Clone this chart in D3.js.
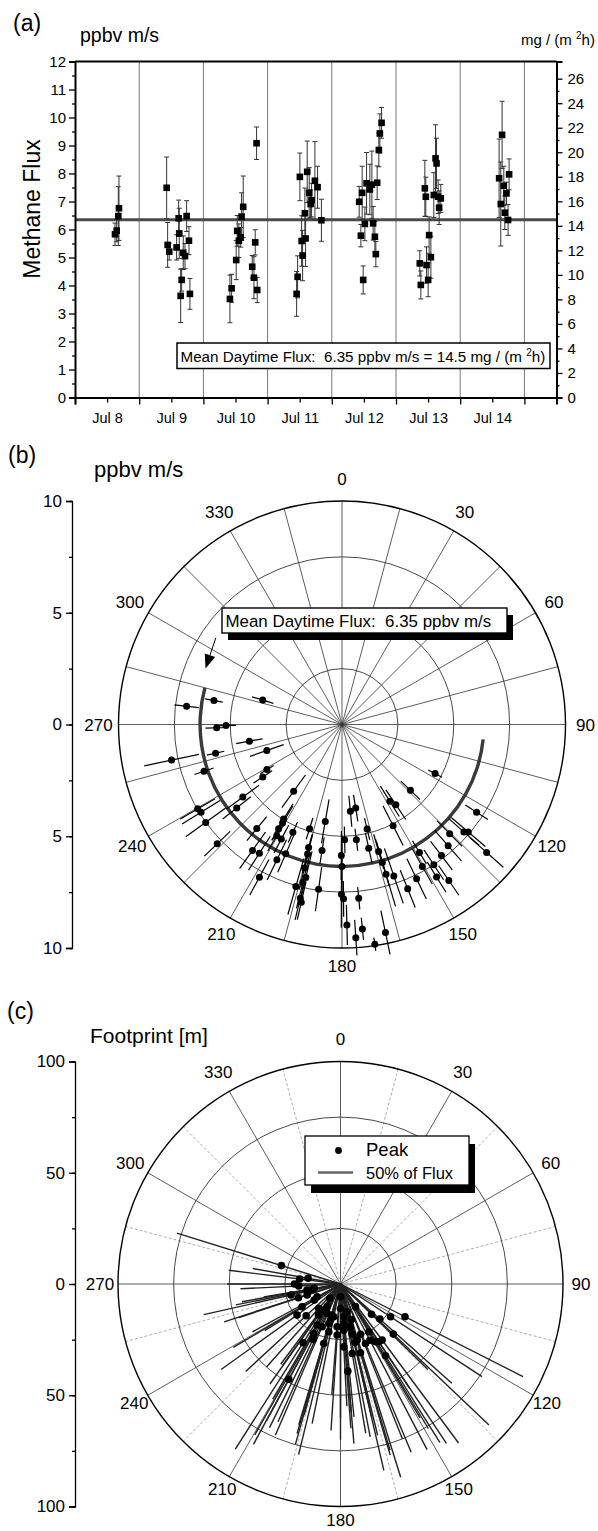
<!DOCTYPE html>
<html>
<head>
<meta charset="utf-8">
<script src="https://d3js.org/d3.v7.min.js"></script>
<style>
  body { margin: 0; background: #fff; }
  svg { display: block; font-family: "Liberation Sans", Arial, sans-serif; }
  .pre { white-space: pre; }
</style>
</head>
<body>
<svg id="chart" width="598" height="1531"></svg>
<script>
'use strict';

// ---- (a) daytime methane flux time series (ppbv m/s) ----
var fluxTimes = [
  '1999-07-08 14:57','1999-07-08 15:35','1999-07-08 16:11','1999-07-08 16:26',
  '1999-07-09 10:16','1999-07-09 10:38','1999-07-09 11:14','1999-07-09 13:59','1999-07-09 14:45',
  '1999-07-09 14:58','1999-07-09 15:30','1999-07-09 15:52','1999-07-09 16:28','1999-07-09 17:07',
  '1999-07-09 17:44','1999-07-09 18:36','1999-07-09 18:58',
  '1999-07-10 09:55','1999-07-10 10:33','1999-07-10 12:16','1999-07-10 12:39','1999-07-10 13:16',
  '1999-07-10 13:55','1999-07-10 14:17','1999-07-10 14:53','1999-07-10 18:15','1999-07-10 18:53',
  '1999-07-10 19:22','1999-07-10 19:53','1999-07-10 20:07',
  '1999-07-11 10:51','1999-07-11 11:13','1999-07-11 12:04','1999-07-11 12:43','1999-07-11 13:05',
  '1999-07-11 13:56','1999-07-11 14:12','1999-07-11 14:48','1999-07-11 15:33','1999-07-11 16:05',
  '1999-07-11 16:27','1999-07-11 17:41','1999-07-11 18:41','1999-07-11 20:07',
  '1999-07-12 10:14','1999-07-12 10:52','1999-07-12 11:21','1999-07-12 11:44','1999-07-12 12:22',
  '1999-07-12 13:00','1999-07-12 14:14','1999-07-12 14:59','1999-07-12 15:27','1999-07-12 16:06',
  '1999-07-12 16:28','1999-07-12 16:58','1999-07-12 17:35','1999-07-12 17:58','1999-07-12 18:36',
  '1999-07-13 08:54','1999-07-13 09:17','1999-07-13 10:47','1999-07-13 11:09','1999-07-13 11:25',
  '1999-07-13 12:01','1999-07-13 12:23','1999-07-13 13:02','1999-07-13 14:08','1999-07-13 14:47',
  '1999-07-13 15:09','1999-07-13 15:45','1999-07-13 16:08','1999-07-13 16:45',
  '1999-07-14 14:33','1999-07-14 15:10','1999-07-14 15:40','1999-07-14 16:18','1999-07-14 16:41',
  '1999-07-14 17:18','1999-07-14 17:54','1999-07-14 18:17'
];
var fluxValues = [
  5.83, 5.96, 6.48, 6.76,
  7.49, 5.45, 5.21, 5.36, 6.40, 5.86, 3.63, 4.20, 5.17, 5.05, 6.48, 5.60, 3.70,
  3.52, 3.90, 4.91, 5.95, 5.60, 5.72, 6.46, 6.81, 4.67, 4.28, 5.54, 9.08, 3.84,
  3.70, 4.31, 7.88, 5.59, 5.07, 6.58, 5.68, 8.06, 7.31, 6.91, 7.05, 7.74, 7.51, 6.33,
  6.99, 5.78, 7.31, 4.20, 6.20, 7.65, 7.43, 7.60, 6.22, 5.74, 5.12, 7.67, 8.84, 9.43, 9.81,
  4.79, 4.02, 7.47, 7.17, 4.73, 4.20, 5.80, 5.01, 7.23, 8.54, 8.36, 7.17, 6.78, 7.11,
  7.83, 6.91, 9.38, 7.56, 6.60, 7.29, 6.34, 7.97
];
var fluxErrors = [
  0.4, 0.4, 1.05, 1.15,
  1.1, 0.8, 0.3, 0.45, 0.65, 0.9, 0.95, 0.4, 0.6, 0.45, 0.55, 0.5, 0.55,
  0.85, 0.5, 0.7, 0.55, 0.6, 0.35, 0.85, 1.1, 0.4, 0.75, 0.45, 0.58, 0.45,
  0.8, 0.75, 0.85, 0.9, 0.9, 0.9, 1.0, 1.1, 0.9, 0.5, 0.6, 1.4, 0.75, 0.75,
  0.55, 0.4, 0.95, 0.5, 0.6, 1.1, 0.9, 1.2, 0.6, 0.55, 0.45, 0.6, 0.6, 0.7, 0.55,
  0.45, 0.5, 1.0, 0.7, 0.65, 0.6, 0.65, 0.75, 0.8, 1.2, 0.9, 0.6, 0.6, 0.5,
  1.4, 1.5, 1.2, 0.7, 0.6, 0.4, 0.55, 0.55
];
var meanFlux = 6.35;
var meanFluxMg = 14.5;
var timeStart = '1999-07-08 00:00';
var timeEnd = '1999-07-15 12:00';

// ---- (b) flux by wind direction (deg, ppbv m/s) ----
var windDir = [
  276.7, 280.6, 287.1, 268.5, 269.5, 259.8, 250.9, 257.2, 258.2, 251.3,
  239.0, 236.5, 215.9, 233.8, 231.6, 239.7, 238.1, 234.3, 226.3, 211.7,
  211.1, 219.3, 211.3, 210.4, 207.9, 204.5, 197.3, 189.8, 215.4, 212.7,
  203.5, 205.7, 195.2, 194.9, 189.0, 194.6, 208.4, 193.3, 195.9, 193.9,
  188.1, 193.5, 192.9, 180.3, 180.0, 178.7, 180.2, 179.5, 174.5, 170.7,
  172.9, 166.5, 167.8, 163.9, 174.5, 178.6, 176.3, 174.3, 171.5, 168.2,
  163.6, 161.1, 163.7, 153.2, 148.1, 146.1, 133.9, 117.8, 123.1, 135.4,
  131.4, 130.4, 131.5, 138.8, 142.8, 148.8, 150.5, 146.8, 148.2, 145.6,
  154.2, 158.2
];
var windFlux = [
  7.00, 5.83, 3.71, 5.61, 5.19, 4.21, 3.56, 5.80, 7.79, 6.52,
  3.92, 4.25, 3.69, 5.50, 6.01, 7.48, 7.43, 7.51, 7.72, 4.97,
  5.15, 6.02, 5.46, 5.77, 5.80, 5.30, 4.88, 4.40, 6.91, 6.84,
  6.31, 6.72, 5.70, 5.99, 5.71, 6.64, 7.77, 7.03, 7.54, 7.28,
  7.44, 7.99, 8.16, 5.86, 6.35, 5.16, 7.59, 7.80, 3.90, 3.79,
  5.20, 4.81, 5.66, 5.91, 7.81, 8.97, 9.56, 9.19, 9.94, 9.51,
  6.98, 7.16, 6.43, 5.07, 4.05, 4.32, 4.25, 4.71, 7.19, 6.86,
  7.27, 7.42, 8.64, 7.21, 7.36, 6.69, 7.30, 7.50, 8.03, 8.46,
  7.67, 7.92
];
var windErr = [
  0.55, 0.4, 0.5, 0.5, 0.45, 0.6, 0.8, 0.4, 1.25, 0.45,
  0.35, 0.5, 0.9, 0.9, 0.8, 0.9, 1.0, 1.1, 0.8, 0.8,
  0.9, 0.7, 0.6, 0.8, 0.7, 0.5, 0.5, 1.0, 1.0, 0.9,
  0.9, 1.0, 0.6, 0.9, 0.6, 1.0, 0.9, 1.2, 1.3, 1.2,
  1.0, 1.0, 0.8, 1.1, 1.4, 0.6, 1.5, 0.8, 0.7, 0.6,
  0.5, 0.5, 0.7, 0.8, 0.5, 0.9, 0.8, 0.5, 0.3, 1.0,
  1.5, 1.3, 1.1, 1.0, 0.8, 0.8, 0.6, 0.35, 0.6, 0.8,
  0.9, 1.0, 1.0, 0.9, 0.8, 0.6, 0.9, 0.8, 0.8, 0.8,
  1.0, 0.9
];
var meanArcFrom = 96, meanArcTo = 285;

// ---- (c) footprint: direction, peak distance, 50%-of-flux distance (m) ----
var fpDir = [
  287.3, 277.0, 280.0, 270.0, 267.3, 257.4, 252.0, 251.7, 260.5, 238.4,
  239.4, 234.4, 227.3, 215.4, 209.6, 210.5, 216.7, 196.2, 193.8, 195.7,
  212.5, 206.3, 208.5, 180.0, 174.2, 162.7, 146.5, 175.9, 166.9, 158.2,
  166.2, 163.8, 175.2, 152.4, 148.7, 143.4, 147.9, 133.5, 134.4, 131.7,
  123.2, 116.9, 149.3, 195.5, 221.7, 184.5, 183.7, 259.8, 215.2, 180.0,
  166.5, 166.8, 258.7, 241.5, 204.4, 191.5, 175.2, 169.0, 163.4, 157.2,
  146.4, 196.5, 203.3, 208.4, 177.0, 170.4
];
var fpPeak = [
  27.8, 18.5, 14.8, 20.7, 18.8, 22.8, 19.9, 15.8, 11.9, 13.8,
  20.1, 24.0, 21.0, 17.1, 21.2, 11.8, 8.0, 14.5, 22.1, 27.8,
  31.3, 27.8, 48.7, 11.0, 14.8, 16.7, 12.2, 20.8, 23.1, 24.3,
  27.1, 32.2, 39.3, 28.5, 30.4, 31.4, 38.1, 32.7, 19.5, 23.7,
  26.9, 32.5, 25.0, 16.8, 14.7, 19.3, 23.0, 15.3, 14.3, 5.7,
  12.8, 19.7, 13.8, 12.0, 14.5, 15.0, 17.8, 19.6, 26.3, 29.0,
  31.2, 18.5, 20.9, 25.3, 28.3, 31.7
];
var fpHalf = [
  77, 50.6, 40, 51, 45, 63, 55, 48, 35, 40,
  56, 66, 58, 45, 78, 60, 45, 70, 79, 75,
  88, 72, 82, 60, 60, 91, 56, 65, 86, 75,
  70, 80, 72, 84, 76, 89, 84, 92, 55, 67,
  76, 92, 70, 61, 50, 50, 66, 45, 55, 70,
  56, 62, 48, 45, 68, 64, 58, 70, 78, 82,
  86, 66, 74, 70, 55, 68
];

var angleLabels = [0, 30, 60, 90, 120, 150, 180, 210, 240, 270, 300, 330];

var svg = d3.select('#chart');
var parseTime = d3.timeParse('%Y-%m-%d %H:%M');

function polar(cx, cy, r, deg) {
  var a = deg * Math.PI / 180;
  return [cx + r * Math.sin(a), cy - r * Math.cos(a)];
}

function styleAxis(g, width) {
  g.select('.domain').attr('stroke', '#000').attr('stroke-width', width);
  g.selectAll('.tick line').attr('stroke', '#000').attr('stroke-width', 1.3);
  g.selectAll('text').attr('fill', '#000').attr('font-family', null);
}

function drawTimeSeries() {
  var left = 75, right = 556.5, top = 61.5, bottom = 397.5;
  var g = svg.append('g');

  var x = d3.scaleTime().domain([parseTime(timeStart), parseTime(timeEnd)]).range([left, right]);
  var y = d3.scaleLinear().domain([0, 12]).range([bottom, top]);
  var y2 = d3.scaleLinear().domain([0, 12 * meanFluxMg / meanFlux]).range([bottom, top]);

  var midnights = d3.timeDay.range(parseTime(timeStart), x.domain()[1]);
  var noons = midnights.map(function(d) { return d3.timeHour.offset(d, 12); });

  // day separators
  g.append('g').selectAll('line').data(midnights.slice(1)).enter().append('line')
    .attr('x1', x).attr('x2', x).attr('y1', top).attr('y2', bottom)
    .attr('stroke', '#777').attr('stroke-width', 1);

  // mean daytime flux
  g.append('line')
    .attr('x1', left).attr('x2', right).attr('y1', y(meanFlux)).attr('y2', y(meanFlux))
    .attr('stroke', '#4a4a4a').attr('stroke-width', 3);

  var pts = fluxTimes.map(function(t, i) {
    return {t: parseTime(t), v: fluxValues[i], e: fluxErrors[i]};
  });

  var eb = g.append('g').attr('stroke', '#333').attr('stroke-width', 1);
  pts.forEach(function(d) {
    var xx = x(d.t);
    eb.append('line').attr('x1', xx).attr('x2', xx).attr('y1', y(d.v - d.e)).attr('y2', y(d.v + d.e));
    eb.append('line').attr('x1', xx - 2.5).attr('x2', xx + 2.5).attr('y1', y(d.v + d.e)).attr('y2', y(d.v + d.e));
    eb.append('line').attr('x1', xx - 2.5).attr('x2', xx + 2.5).attr('y1', y(d.v - d.e)).attr('y2', y(d.v - d.e));
  });

  g.append('g').selectAll('rect').data(pts).enter().append('rect')
    .attr('x', function(d) { return x(d.t) - 3.3; })
    .attr('y', function(d) { return y(d.v) - 3.3; })
    .attr('width', 6.6).attr('height', 6.6).attr('fill', '#000');

  // frame top
  g.append('line').attr('x1', left).attr('x2', right).attr('y1', top).attr('y2', top)
    .attr('stroke', '#000').attr('stroke-width', 2);

  // axes
  var ax = g.append('g').attr('transform', 'translate(0,' + bottom + ')')
    .call(d3.axisBottom(x).tickValues(midnights.concat([x.domain()[1]])).tickSize(7).tickFormat(''));
  styleAxis(ax, 2);
  ax.selectAll('.tick').filter(function(d) { return +d === +x.domain()[1]; }).remove();
  var axn = g.append('g').attr('transform', 'translate(0,' + bottom + ')')
    .call(d3.axisBottom(x).tickValues(noons).tickSize(5).tickPadding(10)
      .tickFormat(d3.timeFormat('%b %-d')));
  styleAxis(axn, 0);
  axn.select('.domain').remove();
  axn.selectAll('text').attr('font-size', 14.5);
  axn.selectAll('.tick').filter(function(d, i) { return i === noons.length - 1; }).select('text').remove();

  var ayMinor = g.append('g').attr('transform', 'translate(' + left + ',0)')
    .call(d3.axisLeft(y).tickValues(d3.range(0.5, 12, 1)).tickSize(3).tickFormat(''));
  styleAxis(ayMinor, 0);
  var ay = g.append('g').attr('transform', 'translate(' + left + ',0)')
    .call(d3.axisLeft(y).tickValues(d3.range(0, 13)).tickSize(6).tickPadding(3));
  styleAxis(ay, 2);
  ay.selectAll('text').attr('font-size', 15);

  var ay2Minor = g.append('g').attr('transform', 'translate(' + right + ',0)')
    .call(d3.axisRight(y2).tickValues(d3.range(1, 27, 2)).tickSize(3).tickFormat(''));
  styleAxis(ay2Minor, 0);
  var ay2 = g.append('g').attr('transform', 'translate(' + right + ',0)')
    .call(d3.axisRight(y2).tickValues(d3.range(0, 27, 2)).tickSize(6).tickPadding(5));
  styleAxis(ay2, 2);
  ay2.selectAll('text').attr('font-size', 15);

  // legend box
  g.append('rect').attr('x', 177).attr('y', 343).attr('width', 373).attr('height', 25.5)
    .attr('fill', '#fff').attr('stroke', '#000').attr('stroke-width', 1.5);
  var lt = g.append('text').attr('class', 'pre').attr('x', 180.5).attr('y', 362).attr('font-size', 15.2);
  lt.append('tspan').text('Mean Daytime Flux:  ' + meanFlux + ' ppbv m/s = ' + meanFluxMg + ' mg / (m ');
  lt.append('tspan').attr('font-size', 10).attr('dy', -6).text('2');
  lt.append('tspan').attr('dy', 6).text('h)');

  // titles
  g.append('text').attr('x', 13).attr('y', 31).attr('font-size', 23).text('(a)');
  g.append('text').attr('x', 80).attr('y', 42).attr('font-size', 19.5).text('ppbv m/s');
  var ru = g.append('text').attr('class', 'pre').attr('x', 521).attr('y', 45).attr('font-size', 15);
  ru.append('tspan').text('mg / (m ');
  ru.append('tspan').attr('font-size', 10).attr('dy', -6).text('2');
  ru.append('tspan').attr('dy', 6).text('h)');
  g.append('text').attr('transform', 'translate(40,209) rotate(-90)')
    .attr('text-anchor', 'middle').attr('font-size', 23).text('Methane Flux');
}

function drawPolarGrid(g, cx, cy, R, rScale, rings, dotted, labelOff, labelTilt) {
  d3.range(0, 360, 15).forEach(function(a) {
    var p = polar(cx, cy, R, a);
    var minor = dotted && a % 30 !== 0;
    g.append('line').attr('x1', cx).attr('y1', cy).attr('x2', p[0]).attr('y2', p[1])
      .attr('stroke', minor ? '#999' : '#333')
      .attr('stroke-width', 0.8)
      .attr('stroke-dasharray', minor ? '3,2' : null);
  });
  rings.forEach(function(r) {
    g.append('circle').attr('cx', cx).attr('cy', cy).attr('r', rScale(r))
      .attr('fill', 'none').attr('stroke', '#333').attr('stroke-width', 0.9);
  });
  g.append('circle').attr('cx', cx).attr('cy', cy).attr('r', R)
    .attr('fill', 'none').attr('stroke', '#000').attr('stroke-width', 1.4);
  angleLabels.forEach(function(a) {
    var off = labelOff + labelTilt * Math.cos(a * Math.PI / 180);
    var p = polar(cx, cy, R + off, a);
    g.append('text').attr('x', p[0]).attr('y', p[1]).attr('text-anchor', 'middle')
      .attr('dy', '0.36em').attr('font-size', 17).text(a);
  });
}

function drawSideAxis(g, axisX, cy, R, maxV, major, minor) {
  var s = d3.scaleLinear().domain([maxV, -maxV]).range([cy - R, cy + R]);
  var m = g.append('g').attr('transform', 'translate(' + axisX + ',0)')
    .call(d3.axisLeft(s).tickValues(d3.range(-maxV, maxV + 0.01, minor)).tickSize(3).tickFormat(''));
  styleAxis(m, 0);
  var a = g.append('g').attr('transform', 'translate(' + axisX + ',0)')
    .call(d3.axisLeft(s).tickValues(d3.range(-maxV, maxV + 0.01, major)).tickSize(6).tickPadding(4)
      .tickFormat(function(d) { return Math.abs(d); }));
  styleAxis(a, 1.3);
  a.selectAll('text').attr('font-size', 17);
}

function drawWindFlux() {
  var cx = 342, cy = 724.5, R = 223.5;
  var g = svg.append('g');
  var r = d3.scaleLinear().domain([0, 10]).range([0, R]);

  drawPolarGrid(g, cx, cy, R, r, [2.5, 5, 7.5], false, 20, 2.5);
  drawSideAxis(g, 72, cy, R, 10, 5, 2.5);

  // mean flux arc
  g.append('path').attr('transform', 'translate(' + cx + ',' + cy + ')')
    .attr('d', d3.arc()({innerRadius: r(meanFlux) - 1.7, outerRadius: r(meanFlux) + 1.7,
      startAngle: meanArcFrom * Math.PI / 180, endAngle: meanArcTo * Math.PI / 180}))
    .attr('fill', '#3a3a3a');

  var eb = g.append('g').attr('stroke', '#000').attr('stroke-width', 1.2);
  windDir.forEach(function(d, i) {
    var p1 = polar(cx, cy, r(windFlux[i] - windErr[i]), d);
    var p2 = polar(cx, cy, r(windFlux[i] + windErr[i]), d);
    eb.append('line').attr('x1', p1[0]).attr('y1', p1[1]).attr('x2', p2[0]).attr('y2', p2[1]);
  });
  g.append('g').selectAll('circle').data(windDir).enter().append('circle')
    .attr('cx', function(d, i) { return polar(cx, cy, r(windFlux[i]), d)[0]; })
    .attr('cy', function(d, i) { return polar(cx, cy, r(windFlux[i]), d)[1]; })
    .attr('r', 3.5).attr('fill', '#000');

  // label box with shadow
  g.append('rect').attr('x', 228).attr('y', 615).attr('width', 285).attr('height', 25).attr('fill', '#000');
  g.append('rect').attr('x', 222).attr('y', 608).attr('width', 285).attr('height', 25)
    .attr('fill', '#fff').attr('stroke', '#000').attr('stroke-width', 1.4);
  g.append('text').attr('class', 'pre').attr('x', 225.5).attr('y', 627).attr('font-size', 16.9)
    .text('Mean Daytime Flux:  ' + meanFlux + ' ppbv m/s');

  // arrow to the mean arc
  var a0 = polar(cx, cy, r(6.85), 304.5), tip = polar(cx, cy, r(6.6), 292.3);
  var ang = Math.atan2(tip[1] - a0[1], tip[0] - a0[0]);
  var base = [tip[0] - 14 * Math.cos(ang), tip[1] - 14 * Math.sin(ang)];
  var nx = -Math.sin(ang) * 5.5, ny = Math.cos(ang) * 5.5;
  g.append('line').attr('x1', a0[0]).attr('y1', a0[1]).attr('x2', base[0]).attr('y2', base[1])
    .attr('stroke', '#000').attr('stroke-width', 1);
  g.append('path').attr('d', 'M' + tip + 'L' + [base[0] + nx, base[1] + ny] + 'L' + [base[0] - nx, base[1] - ny] + 'Z')
    .attr('fill', '#000');

  g.append('text').attr('x', 8).attr('y', 463).attr('font-size', 23).text('(b)');
  g.append('text').attr('x', 94).attr('y', 477).attr('font-size', 22).text('ppbv m/s');
}

function drawFootprint() {
  var cx = 340.5, cy = 1284, R = 222.5;
  var g = svg.append('g');
  var r = d3.scaleLinear().domain([0, 100]).range([0, R]);

  drawPolarGrid(g, cx, cy, R, r, [25, 50, 75], true, 18, 4.5);
  drawSideAxis(g, 75, cy, R, 100, 50, 25);

  var lines = g.append('g').attr('stroke', '#222').attr('stroke-width', 1.4);
  fpDir.forEach(function(d, i) {
    var p = polar(cx, cy, r(fpHalf[i]), d);
    lines.append('line').attr('x1', cx).attr('y1', cy).attr('x2', p[0]).attr('y2', p[1]);
  });
  g.append('g').selectAll('circle').data(fpDir).enter().append('circle')
    .attr('cx', function(d, i) { return polar(cx, cy, r(fpPeak[i]), d)[0]; })
    .attr('cy', function(d, i) { return polar(cx, cy, r(fpPeak[i]), d)[1]; })
    .attr('r', 3.8).attr('fill', '#000');

  // legend
  g.append('rect').attr('x', 311).attr('y', 1144).attr('width', 164).attr('height', 49).attr('fill', '#000');
  g.append('rect').attr('x', 305).attr('y', 1136).attr('width', 164).attr('height', 49)
    .attr('fill', '#fff').attr('stroke', '#000').attr('stroke-width', 1.3);
  g.append('circle').attr('cx', 338.5).attr('cy', 1150.5).attr('r', 3.4).attr('fill', '#000');
  g.append('text').attr('x', 366).attr('y', 1156).attr('font-size', 18.5).text('Peak');
  g.append('line').attr('x1', 318).attr('x2', 353).attr('y1', 1172.5).attr('y2', 1172.5)
    .attr('stroke', '#666').attr('stroke-width', 2.5);
  g.append('text').attr('x', 366).attr('y', 1178.5).attr('font-size', 16.5).text('50% of Flux');

  g.append('text').attr('x', 7).attr('y', 1019).attr('font-size', 23).text('(c)');
  g.append('text').attr('x', 90).attr('y', 1043).attr('font-size', 21).text('Footprint [m]');
}

drawTimeSeries();
drawWindFlux();
drawFootprint();
</script>
</body>
</html>
